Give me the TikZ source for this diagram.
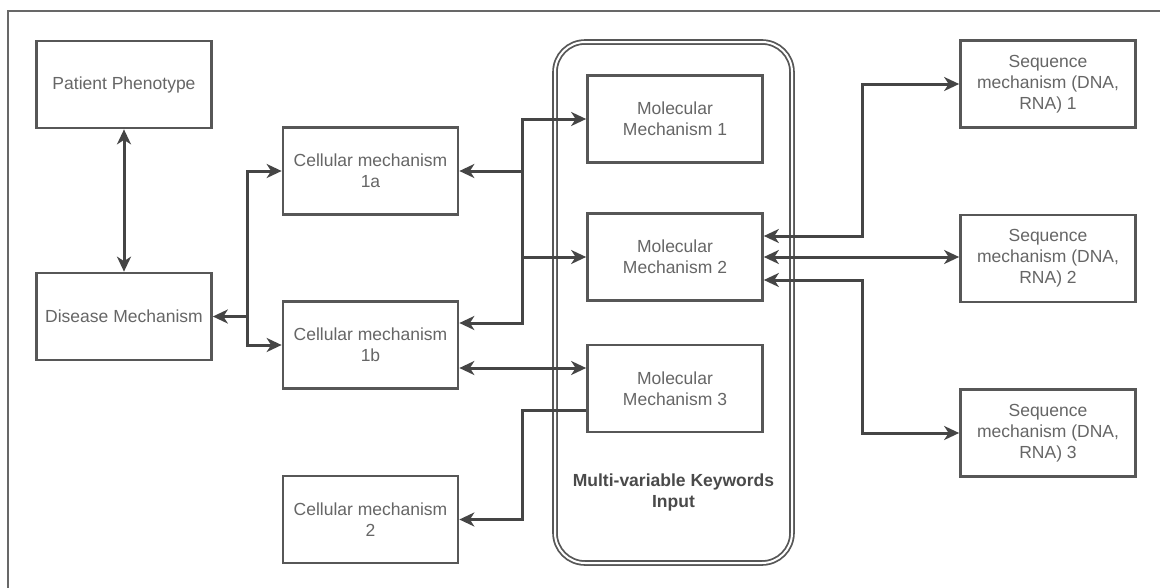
\documentclass[tikz,border=0pt]{standalone}
\usepackage{fontspec}
\setmainfont{Liberation Sans}
\usetikzlibrary{arrows.meta,calc}
\definecolor{boxline}{HTML}{575757}
\definecolor{wire}{HTML}{454545}
\definecolor{txt}{HTML}{666666}
\definecolor{boldtxt}{HTML}{4A4A4A}
\begin{document}
\begin{tikzpicture}[x=1pt,y=-1pt,
  mbox/.style={draw=boxline,line width=2.7pt,fill=white,minimum width=175pt,minimum height=87pt,
    inner sep=0pt,align=center,text=txt,font=\fontsize{17.5}{21}\selectfont},
  wireline/.style={draw=wire,line width=3pt,
    >={Stealth[length=15pt,width=14pt,inset=4.5pt]}},
  group/.style={draw=boxline,line width=1.8pt,double=white,double distance=2pt,
    rounded corners=30pt,minimum width=237pt,minimum height=521pt,inner sep=0pt}]
\useasboundingbox (0,0) rectangle (1160,587);
\fill[white] (0,0) rectangle (1160,587);
% outer frame (only top and left edges fall inside the page)
\draw[draw=boxline!90,line width=2.6pt] (8,600) -- (8,11) -- (1175,11);

% keyword container
\node[group] (grp) at (673.5,302.5) {};
\node[text=boldtxt,font=\fontsize{17.5}{21}\selectfont\bfseries,align=center] (grplbl) at (673.5,492) {Multi-variable Keywords\\Input};

% boxes
\node[mbox] (pat) at (124,84.5) {Patient Phenotype};
\node[mbox] (dis) at (124,316.5) {Disease Mechanism};
\node[mbox] (c1a) at (370.5,171) {Cellular mechanism\\1a};
\node[mbox] (c1b) at (370.5,345) {Cellular mechanism\\1b};
\node[mbox] (c2) at (370.5,519.5) {Cellular mechanism\\2};
\node[mbox] (m1) at (675,119) {Molecular\\Mechanism 1};
\node[mbox] (m2) at (675,257) {Molecular\\Mechanism 2};
\node[mbox] (m3) at (675,388.5) {Molecular\\Mechanism 3};
\node[mbox] (s1) at (1048,84) {Sequence\\mechanism (DNA,\\RNA) 1};
\node[mbox] (s2) at (1048,258.5) {Sequence\\mechanism (DNA,\\RNA) 2};
\node[mbox] (s3) at (1048,433) {Sequence\\mechanism (DNA,\\RNA) 3};

% routing points
\coordinate (jd) at (247,316.5);
\coordinate (ja) at (522,171);
\coordinate (jb) at (522,257);
\coordinate (jc) at (522,410);
\coordinate (jr1) at (862,236);
\coordinate (jr3) at (862,280);

% connectors
\draw[wireline,<->] (pat.south) -- (dis.north);
\draw[wireline,<->] (dis.east) -- (jd) |- (c1a.west);
\draw[wireline,->] (jd) |- (c1b.west);
\draw[wireline,<->] (c1a.east) -- (ja) |- (m1.west);
\draw[wireline,->] (ja) |- (m2.west);
\draw[wireline,->] (jb) |- ($(c1b.east)+(0,-22)$);
\draw[wireline,<->] ($(c1b.east)+(0,23)$) -- ($(m3.west)+(0,-20.5)$);
\draw[wireline,->] ($(m3.west)+(0,21.5)$) -- (jc) |- (c2.east);
\draw[wireline,<->] ($(m2.east)+(0,-21)$) -- (jr1) |- (s1.west);
\draw[wireline,<->] (m2.east) -- (m2.east -| s2.west);
\draw[wireline,<->] ($(m2.east)+(0,23)$) -- (jr3) |- (s3.west);
\end{tikzpicture}
\end{document}
